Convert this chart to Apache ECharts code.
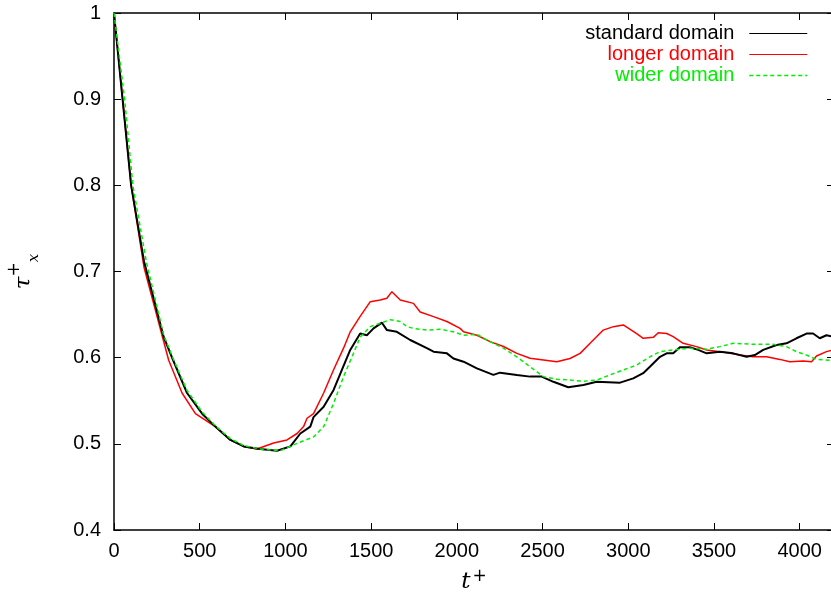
<!DOCTYPE html>
<html>
<head>
<meta charset="utf-8">
<script src="https://cdn.jsdelivr.net/npm/echarts@6/dist/echarts.min.js"></script>
<style>html,body{margin:0;padding:0;background:#fff;}#chart{width:831px;height:594px;}</style>
</head>
<body>
<div id="chart"></div>
<script>
// Data
var seriesNames = ['standard domain', 'longer domain', 'wider domain'];

var standardT = [0, 50, 100, 175, 290, 345, 426, 514, 591, 679, 757, 850, 951, 1029, 1087, 1145, 1164, 1223, 1281, 1330, 1378, 1436, 1475, 1514, 1563, 1592, 1650, 1728, 1825, 1864, 1942, 1980, 2039, 2117, 2213, 2252, 2350, 2427, 2495, 2563, 2650, 2738, 2816, 2952, 3029, 3087, 3126, 3185, 3224, 3262, 3301, 3359, 3408, 3457, 3534, 3612, 3690, 3738, 3787, 3865, 3923, 3981, 4040, 4078, 4117, 4156, 4200];
var standardY = [1.0, 0.9, 0.8, 0.712, 0.624, 0.597, 0.559, 0.535, 0.52, 0.5045, 0.497, 0.494, 0.492, 0.497, 0.512, 0.52, 0.531, 0.543, 0.5625, 0.586, 0.609, 0.628, 0.626, 0.634, 0.6406, 0.632, 0.630, 0.6205, 0.611, 0.607, 0.605, 0.599, 0.5953, 0.5876, 0.580, 0.5826, 0.580, 0.578, 0.578, 0.572, 0.5656, 0.5683, 0.572, 0.571, 0.576, 0.582, 0.5895, 0.601, 0.605, 0.605, 0.612, 0.612, 0.609, 0.605, 0.607, 0.605, 0.601, 0.603, 0.609, 0.6147, 0.6167, 0.6225, 0.628, 0.628, 0.6225, 0.626, 0.624];

var longerT = [0, 50, 100, 175, 319, 397, 475, 591, 679, 757, 834, 931, 1009, 1068, 1106, 1126, 1164, 1223, 1281, 1339, 1378, 1436, 1495, 1553, 1592, 1621, 1670, 1747, 1786, 1864, 1942, 2019, 2039, 2117, 2194, 2272, 2350, 2427, 2505, 2583, 2660, 2719, 2777, 2854, 2913, 2971, 3049, 3087, 3146, 3175, 3224, 3262, 3320, 3398, 3457, 3534, 3593, 3651, 3728, 3807, 3884, 3942, 4020, 4069, 4098, 4156, 4200];
var longerY = [1.0, 0.9, 0.8, 0.705, 0.597, 0.559, 0.535, 0.52, 0.5045, 0.497, 0.494, 0.501, 0.5045, 0.512, 0.52, 0.5297, 0.535, 0.559, 0.586, 0.611, 0.630, 0.648, 0.665, 0.667, 0.669, 0.6766, 0.667, 0.663, 0.653, 0.6476, 0.642, 0.634, 0.630, 0.626, 0.6186, 0.613, 0.605, 0.5993, 0.5973, 0.5953, 0.599, 0.605, 0.6167, 0.632, 0.636, 0.638, 0.628, 0.6225, 0.6236, 0.629, 0.628, 0.6244, 0.6167, 0.6128, 0.609, 0.607, 0.605, 0.603, 0.601, 0.601, 0.598, 0.5953, 0.596, 0.5953, 0.602, 0.607, 0.609];

var widerT = [0, 62, 110, 190, 290, 345, 426, 514, 591, 679, 757, 850, 970, 1068, 1164, 1223, 1281, 1339, 1397, 1436, 1495, 1553, 1611, 1670, 1709, 1747, 1825, 1903, 1980, 2039, 2117, 2194, 2272, 2350, 2427, 2505, 2583, 2660, 2738, 2816, 2893, 2971, 3049, 3126, 3185, 3262, 3359, 3457, 3534, 3612, 3728, 3845, 3923, 3981, 4040, 4098, 4200];
var widerY = [1.0, 0.9, 0.8, 0.71, 0.626, 0.599, 0.562, 0.537, 0.521, 0.506, 0.498, 0.494, 0.492, 0.5006, 0.508, 0.520, 0.547, 0.578, 0.605, 0.624, 0.636, 0.640, 0.644, 0.642, 0.636, 0.634, 0.632, 0.633, 0.630, 0.626, 0.627, 0.6186, 0.611, 0.601, 0.5895, 0.578, 0.575, 0.574, 0.5726, 0.574, 0.580, 0.5857, 0.5915, 0.601, 0.607, 0.609, 0.611, 0.6097, 0.6128, 0.6167, 0.6155, 0.6155, 0.6128, 0.607, 0.603, 0.598, 0.5965];

var xTickStep = 500;
var yTickStep = 0.1;

function pairs(t, y) { return t.map(function (v, i) { return [v, y[i]]; }); }

var chart = echarts.init(document.getElementById('chart'));
var font = '"Liberation Sans", Arial, sans-serif';
var axisCommon = {
  axisLine: { show: true, onZero: false, lineStyle: { color: '#000', width: 1.5 } },
  axisTick: { show: true, inside: true, length: 7, lineStyle: { color: '#000', width: 1 } },
  splitLine: { show: false }
};
chart.setOption({
  animation: false,
  backgroundColor: '#fff',
  grid: { left: 114, right: -3, top: 13, bottom: 64, containLabel: false, outerBoundsMode: 'none' },
  legend: {
    orient: 'vertical',
    right: 18,
    top: 18,
    align: 'right',
    itemWidth: 58,
    itemHeight: 12,
    itemGap: 0,
    itemStyle: { opacity: 0 },
    textStyle: { fontFamily: font, fontSize: 20, lineHeight: 21, padding: [0, 10, 0, 0] },
    data: [
      { name: seriesNames[0], textStyle: { color: '#000' }, lineStyle: { width: 1, color: '#000' }, itemStyle: { opacity: 0 } },
      { name: seriesNames[1], textStyle: { color: '#ff0000' }, lineStyle: { width: 1, color: '#ff0000' }, itemStyle: { opacity: 0 } },
      { name: seriesNames[2], textStyle: { color: '#00ee00' }, lineStyle: { width: 1.5, color: '#00ee00', type: [4, 3] }, itemStyle: { opacity: 0 } }
    ]
  },
  xAxis: [
    Object.assign({
      type: 'value', min: 0, max: 4200, interval: xTickStep, position: 'bottom',
      name: '{t|t}{s|+}', nameLocation: 'middle', nameGap: 38,
      nameTextStyle: {
        rich: {
          t: { fontFamily: '"DejaVu Serif", serif', fontStyle: 'italic', fontSize: 23, color: '#000', verticalAlign: 'bottom', lineHeight: 26, padding: [0, 1, 0, 0] },
          s: { fontFamily: '"DejaVu Sans", sans-serif', fontSize: 17, color: '#000', verticalAlign: 'top', lineHeight: 26, padding: [0, 0, 8, 1] }
        }
      },
      axisLabel: { color: '#000', fontFamily: font, fontSize: 20, margin: 11, formatter: function (v) { return String(v); } }
    }, axisCommon),
    Object.assign({
      type: 'value', min: 0, max: 4200, interval: xTickStep, position: 'top',
      axisLabel: { show: false }
    }, axisCommon)
  ],
  yAxis: [
    Object.assign({
      type: 'value', min: 0.4, max: 1, interval: yTickStep, position: 'left',
      name: '{t|τ}{s|+}{b|x}', nameLocation: 'middle', nameGap: 72, nameRotate: 90,
      nameTextStyle: {
        rich: {
          t: { fontFamily: '"DejaVu Serif", serif', fontStyle: 'italic', fontSize: 23, color: '#000', lineHeight: 36, verticalAlign: 'middle' },
          s: { fontFamily: '"DejaVu Sans", sans-serif', fontSize: 17, color: '#000', lineHeight: 36, verticalAlign: 'top' },
          b: { fontFamily: '"DejaVu Serif", serif', fontStyle: 'italic', fontSize: 15, color: '#000', lineHeight: 36, verticalAlign: 'bottom' }
        }
      },
      axisLabel: { color: '#000', fontFamily: font, fontSize: 20, margin: 13 }
    }, axisCommon),
    Object.assign({
      type: 'value', min: 0.4, max: 1, interval: yTickStep, position: 'right',
      axisLabel: { show: false }
    }, axisCommon)
  ],
  series: [
    { name: seriesNames[0], type: 'line', symbol: 'none', xAxisIndex: 0, yAxisIndex: 0,
      lineStyle: { color: '#000', width: 2 }, itemStyle: { color: '#000' }, data: pairs(standardT, standardY), z: 3 },
    { name: seriesNames[1], type: 'line', symbol: 'none', xAxisIndex: 0, yAxisIndex: 0,
      lineStyle: { color: '#ff0000', width: 1.5 }, itemStyle: { color: '#ff0000' }, data: pairs(longerT, longerY), z: 2 },
    { name: seriesNames[2], type: 'line', symbol: 'none', xAxisIndex: 0, yAxisIndex: 0,
      lineStyle: { color: '#00ee00', width: 1.5, type: [4, 3] }, itemStyle: { color: '#00ee00' }, data: pairs(widerT, widerY), z: 4 }
  ]
});
</script>
</body>
</html>
